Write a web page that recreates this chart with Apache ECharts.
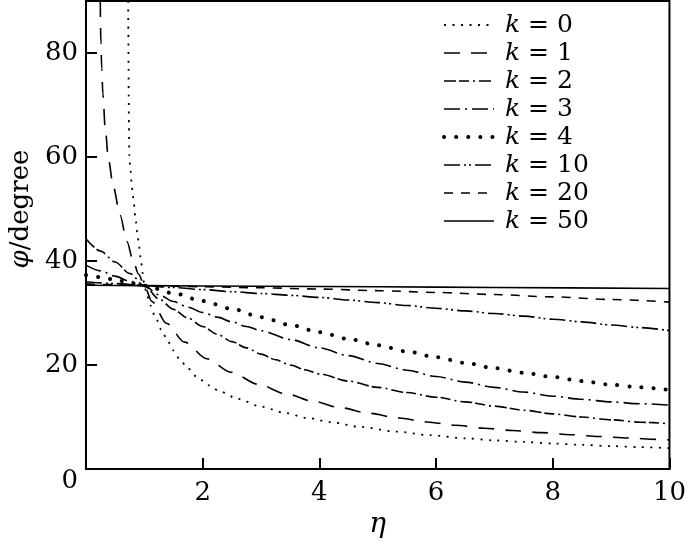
<!DOCTYPE html>
<html>
<head>
<meta charset="utf-8">
<script src="https://cdn.jsdelivr.net/npm/echarts@6/dist/echarts.min.js"></script>
<style>html,body{margin:0;padding:0;background:#fff;}#c{width:689px;height:544px;}</style>
</head>
<body>
<div id="c"></div>
<script>
// ---- data ----
var kLabels = ['0', '1', '2', '3', '4', '10', '20', '50'];
var xTicks = [2, 4, 6, 8, 10];
var yTicks = [0, 20, 40, 60, 80];

var k0 = [[0.7235,90],[0.726,84],[0.729,78],[0.732,72],[0.736,66],[0.742,60.4],[0.76,57.6],[0.783,55.0],[0.80,53.0],[0.822,50.9],
  [0.85,48.0],[0.88,45.3],[0.91,42.8],[0.94,40.3],[0.97,37.7],[1,35.26],[1.05,33.2],[1.1,31.5],[1.2,28.9],[1.3,26.6],[1.4,24.6],
  [1.5,22.8],[1.6,21.2],[1.75,19.3],[1.9,17.7],[2.1,16.1],[2.3,14.9],[2.6,13.5],[3,12.0],[3.4,10.8],[3.8,9.8],[4.2,9.0],[4.7,8.1],
  [5.3,7.2],[5.9,6.5],[6.5,5.9],[7,5.5],[7.5,5.2],[8,4.9],[8.5,4.65],[9,4.4],[9.5,4.2],[10,4.0]];
var k1 = [[0.245,90],[0.255,82],[0.27,77],[0.29,72],[0.33,65.5],[0.385,59.5],[0.47,54.2],[0.585,48.8],[0.70,43.8],[0.81,40],[0.90,37.5],[1,35.26],
  [1.13,32.2],[1.38,28.0],[1.69,24.4],[2.07,21.2],[2.49,18.6],[2.95,16.3],[3.42,14.5],[3.9,13.0],[4.35,11.8],[4.86,10.7],[5.36,9.8],
  [5.84,9.05],[6.33,8.4],[6.83,7.85],[7.31,7.4],[7.81,7.0],[8.3,6.6],[8.78,6.25],[9.29,5.95],[9.78,5.7],[10,5.6]];
var k2 = [[0,44.3],[0.25,41.9],[0.5,39.8],[0.75,37.6],[1,35.26],[1.25,32.7],[1.5,30.7],[1.75,29.0],[2,27.4],[2.25,25.9],[2.5,24.5],
  [2.75,23.3],[3,22.1],[3.25,21.0],[3.5,20.0],[3.75,19.1],[4,18.3],[4.5,16.9],[5,15.7],[5.5,14.7],[6,13.8],[6.5,12.9],[7,12.1],
  [7.5,11.3],[8,10.6],[8.5,10.0],[9,9.45],[9.5,9.0],[10,8.7]];
var k3 = [[0,39.2],[0.25,38.1],[0.5,37.1],[0.75,36.1],[1,35.26],[1.25,33.5],[1.5,32.2],[1.75,31.1],[2,30.1],[2.25,29.2],[2.5,28.3],
  [2.75,27.4],[3,26.6],[3.5,24.9],[4,23.3],[4.5,21.8],[5,20.3],[5.5,19.0],[6,17.8],[6.5,16.7],[7,15.7],[7.5,14.8],[8,14.0],[8.5,13.4],
  [9,12.9],[9.5,12.55],[10,12.3]];
var k4 = [[0,37.3],[0.25,36.9],[0.5,36.4],[0.75,35.8],[1,35.26],[1.5,33.8],[2,32.3],[2.5,30.8],[3,29.2],[3.5,27.7],[4,26.3],[4.5,25.0],
  [5,23.8],[5.5,22.6],[6,21.5],[6.5,20.4],[7,19.4],[7.5,18.5],[8,17.7],[8.5,16.9],[9,16.2],[9.5,15.7],[10,15.2]];
var k10 = [[0,36.0],[0.5,35.65],[1,35.26],[1.5,34.9],[2,34.5],[2.5,34.1],[3,33.75],[3.5,33.4],[4,33.0],[4.5,32.5],[5,32.0],[5.5,31.45],
  [6,30.9],[6.5,30.4],[7,29.9],[7.5,29.4],[8,28.8],[8.5,28.3],[9,27.7],[9.5,27.2],[10,26.6]];
var k20 = [[0,35.6],[0.5,35.45],[1,35.26],[2,35.05],[3,34.85],[4,34.6],[5,34.3],[6,33.95],[7,33.55],[8,33.1],[9,32.6],[10,32.1]];
var k50 = [[0,35.35],[1,35.26],[3,35.15],[5,35.05],[7,34.9],[10,34.7]];

var seriesData = [k0, k1, k2, k3, k4, k10, k20, k50];

// ---- styles ----
var styles = [
  {width: 1.8, type: [2, 6.5], cap: 'butt'},
  {width: 1.6, type: [16, 11], cap: 'butt'},
  {width: 1.6, type: [12, 3, 10, 4, 2, 4], cap: 'butt'},
  {width: 1.6, type: [16, 5, 2, 5], cap: 'butt'},
  {width: 4, type: [0.1, 12], cap: 'round'},
  {width: 1.6, type: [16, 4, 2, 3, 2, 4], cap: 'butt'},
  {width: 1.6, type: [9, 8], cap: 'butt'},
  {width: 1.6, type: 'solid', cap: 'butt'}
];

var FONT = 'DejaVu Serif';
var chart = echarts.init(document.getElementById('c'), null, {renderer: 'canvas'});

function lineStyleOf(i) {
  return {color: '#000', width: styles[i].width, type: styles[i].type, cap: styles[i].cap};
}

var series = seriesData.map(function (d, i) {
  return {
    name: kLabels[i],
    type: 'line',
    data: d,
    symbol: 'none',
    smooth: 0.3,
    smoothMonotone: 'x',
    clip: true,
    animation: false,
    lineStyle: lineStyleOf(i),
    itemStyle: {color: '#000'}
  };
});

var legendData = kLabels.map(function (n, i) {
  return {name: n, lineStyle: lineStyleOf(i), itemStyle: {opacity: 0, borderWidth: 0}};
});

chart.setOption({
  animation: false,
  backgroundColor: '#fff',
  grid: {left: 83.5, right: 15.5, top: 1, bottom: 71.5, show: true, borderColor: '#000', borderWidth: 2, containLabel: false},
  legend: {
    orient: 'vertical',
    left: 437, top: 7,
    itemWidth: 50, itemHeight: 14, itemGap: 2,
    data: legendData,
    itemStyle: {opacity: 0, borderWidth: 0},
    formatter: function (n) { return '{k|k} = ' + n; },
    textStyle: {
      fontFamily: FONT, fontSize: 25, color: '#000', lineHeight: 26, padding: [0, 0, 0, 6],
      rich: {k: {fontFamily: FONT, fontStyle: 'italic', fontSize: 25, color: '#000', lineHeight: 26}}
    },
    selectedMode: false
  },
  xAxis: {
    type: 'value', min: 0, max: 10, interval: 2,
    name: 'η', nameLocation: 'middle', nameGap: 42,
    nameTextStyle: {fontFamily: FONT, fontStyle: 'italic', fontSize: 28, color: '#000'},
    axisLine: {show: true, lineStyle: {color: '#000', width: 2}},
    axisTick: {show: true, inside: true, length: 11, lineStyle: {color: '#000', width: 2}},
    axisLabel: {
      showMinLabel: false, margin: 11, color: '#000', fontFamily: FONT, fontSize: 26,
      formatter: function (v) { return xTicks.indexOf(v) >= 0 ? String(v) : ''; }
    },
    splitLine: {show: false}
  },
  yAxis: {
    type: 'value', min: 0, max: 90, interval: 20,
    name: '{i|φ}/degree', nameLocation: 'middle', nameGap: 50,
    nameTextStyle: {fontFamily: FONT, fontSize: 26, color: '#000', padding: [0, 0, 0, 52],
      rich: {i: {fontFamily: FONT, fontStyle: 'italic', fontSize: 26, color: '#000'}}},
    axisLine: {show: true, lineStyle: {color: '#000', width: 2}},
    axisTick: {show: true, inside: true, length: 11, lineStyle: {color: '#000', width: 2}},
    axisLabel: {
      showMaxLabel: false, margin: 8, color: '#000', fontFamily: FONT, fontSize: 26,
      formatter: function (v) {
        if (yTicks.indexOf(v) < 0) return '';
        return v === 0 ? '{z|0}' : String(v);
      },
      rich: {z: {fontFamily: FONT, fontSize: 26, color: '#000', padding: [24, 0, 0, 0]}}
    },
    splitLine: {show: false}
  },
  series: series
});
</script>
</body>
</html>
